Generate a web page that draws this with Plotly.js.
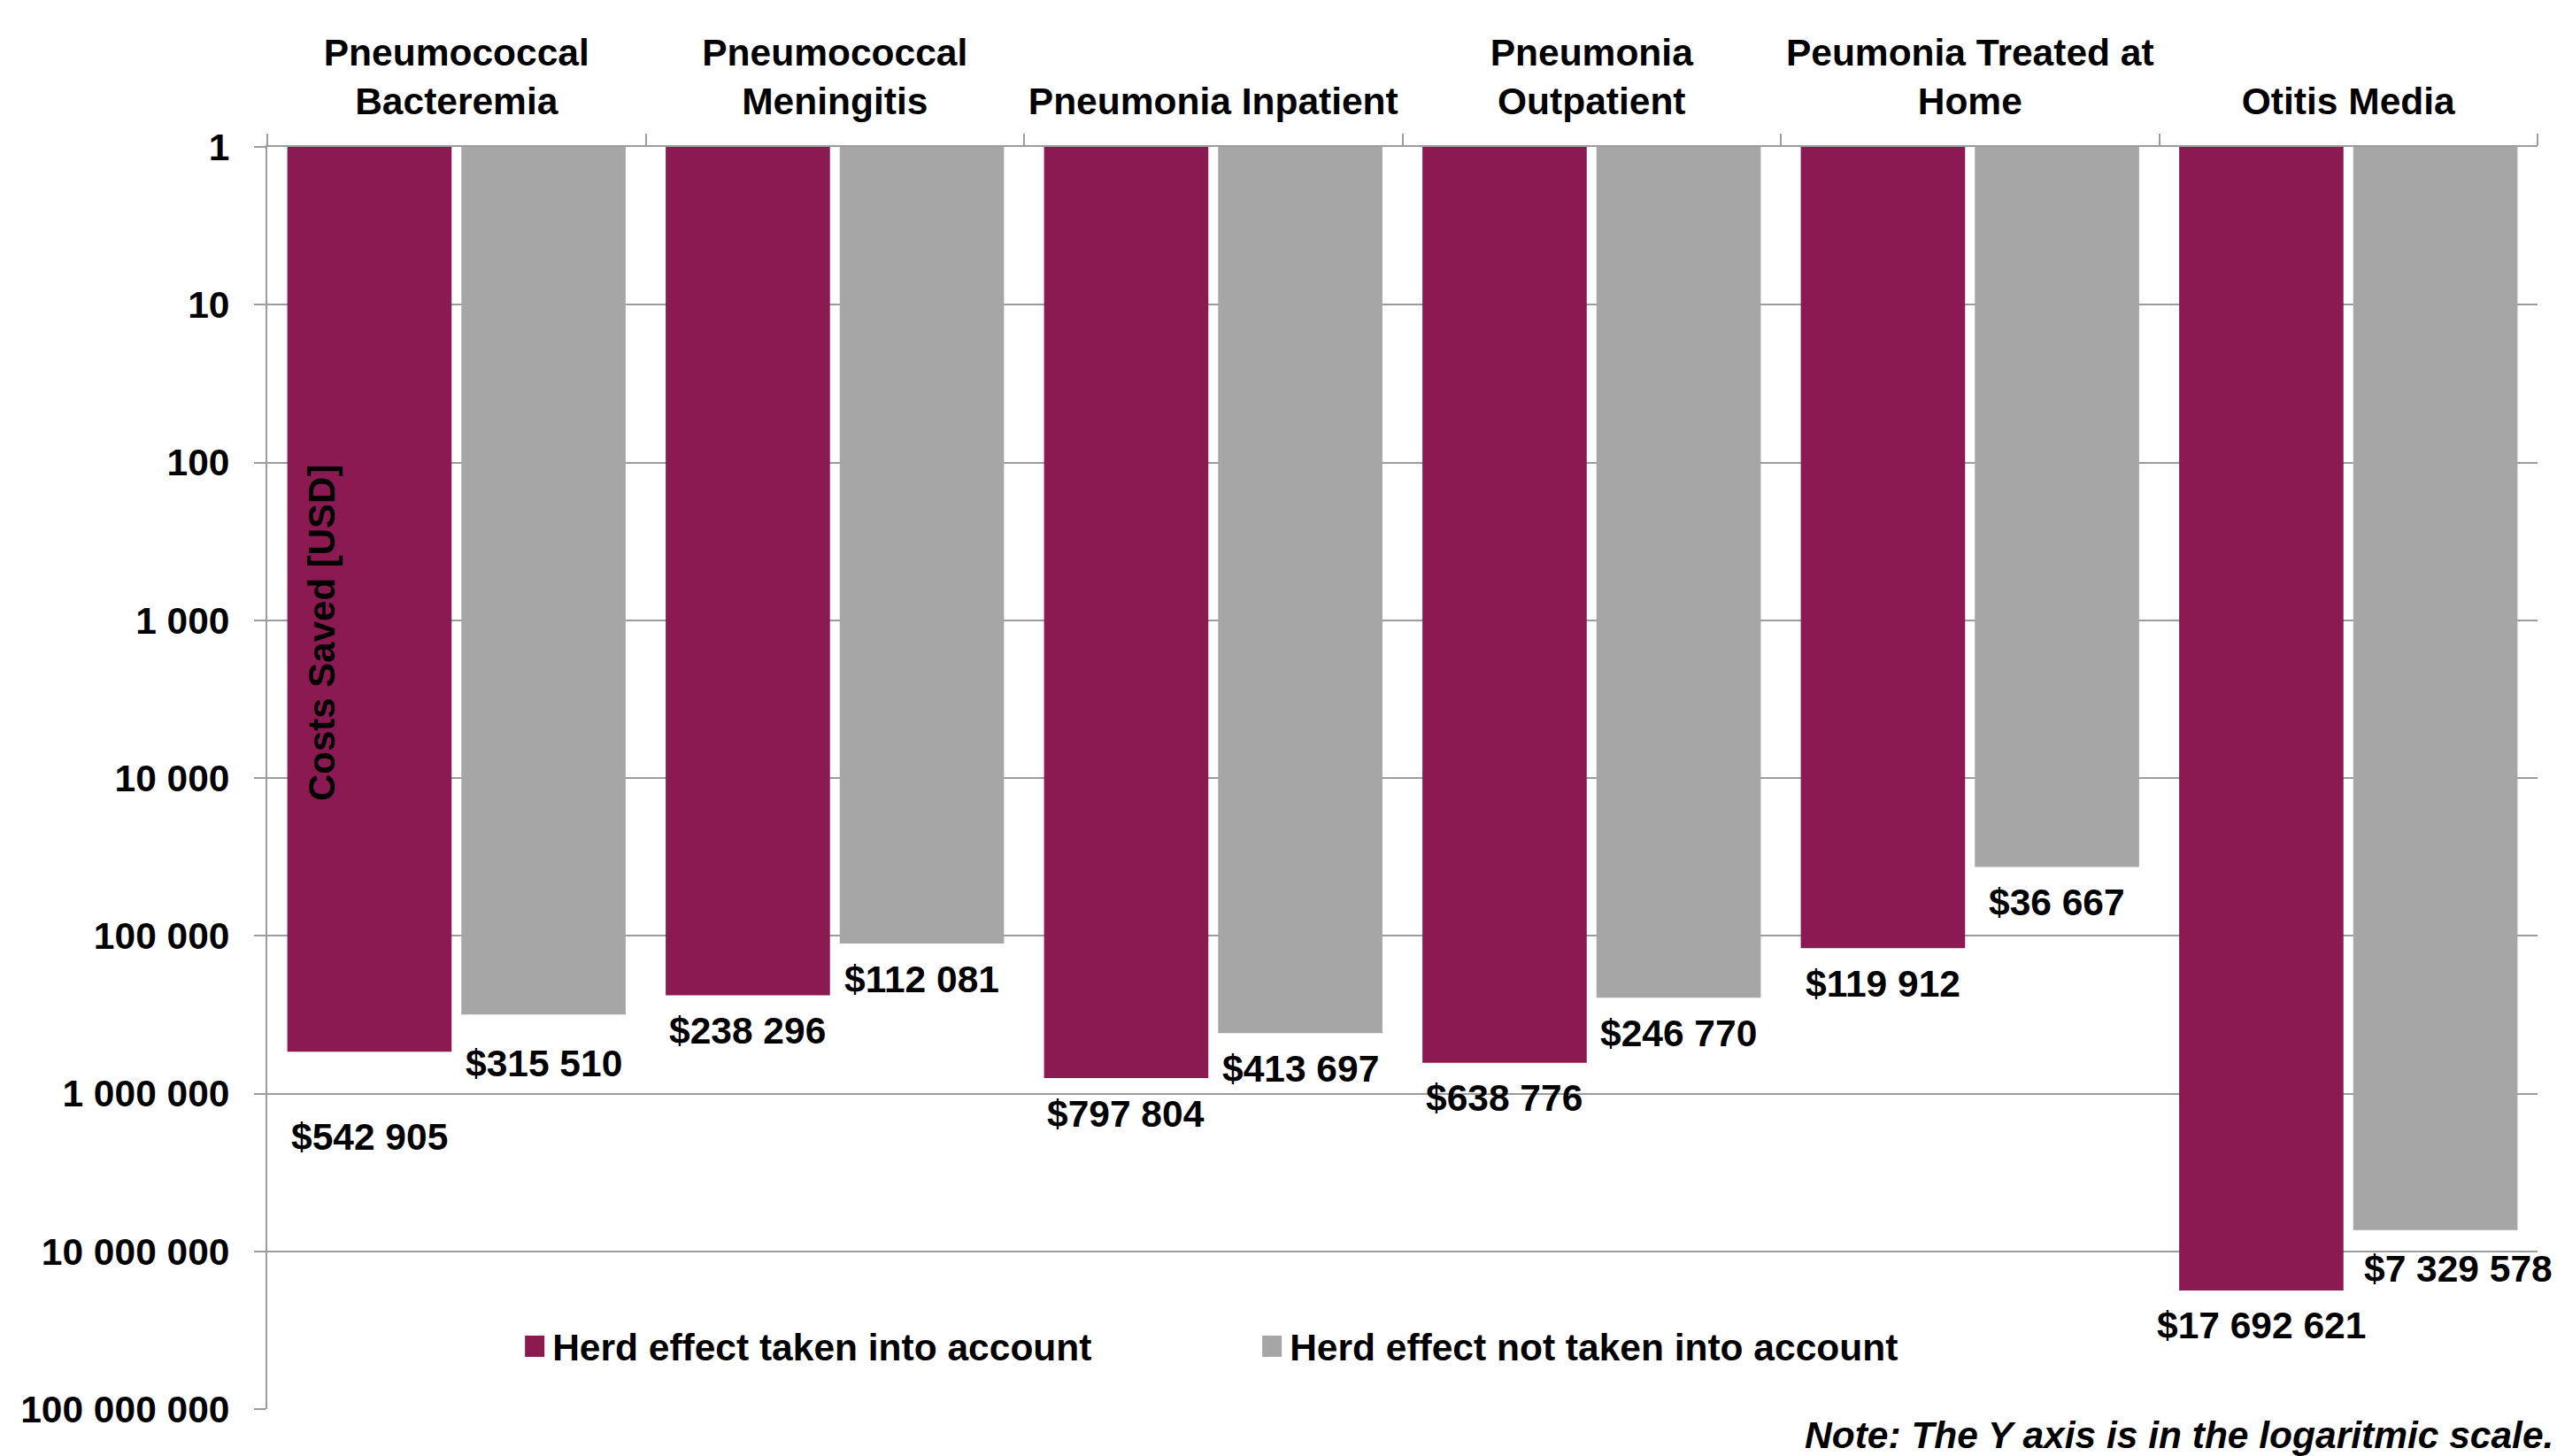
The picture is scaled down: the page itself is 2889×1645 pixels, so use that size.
<!DOCTYPE html>
<html>
<head>
<meta charset="utf-8">
<script src="https://cdn.plot.ly/plotly-3.0.1.min.js"></script>
<style>
  html, body { margin: 0; padding: 0; background: #ffffff; }
  #chart { width: 2889px; height: 1645px; }
</style>
</head>
<body>
<div id="chart"></div>
<script>
// Categories of disease (multi-line labels shown above the plot)
const categories = [
  'Pneumococcal<br>Bacteremia',
  'Pneumococcal<br>Meningitis',
  'Pneumonia Inpatient',
  'Pneumonia<br>Outpatient',
  'Peumonia Treated at<br>Home',
  'Otitis Media'
];

// Costs saved in USD
const herdIncluded = [542905, 238296, 797804, 638776, 119912, 17692621];
const herdExcluded = [315510, 112081, 413697, 246770, 36667, 7329578];

const seriesNames = ['Herd effect taken into account', 'Herd effect not taken into account'];

// Log-scale ticks and their labels
const tickValues = [1, 10, 100, 1000, 10000, 100000, 1000000, 10000000, 100000000];
const tickLabels = ['1', '10', '100', '1 000', '10 000', '100 000', '1 000 000', '10 000 000', '100 000 000'];

// ---- styling ----
const FONT = 'Liberation Sans, Arial, Helvetica, sans-serif';
const PURPLE = '#8a1a51';
const GREY = '#a6a6a6';
const LINE = '#9c9c9c';
const FS = 42.5;

// vertical drop (px) of each value label below its bar end; a few are set lower
const labelDrop = { default: 40, 'herd-0': 96, 'noherd-0': 55, 'noherd-5': 44 };
const labelShift = { 'noherd-5': 26 };

function money(v) {
  return '$' + String(v).replace(/\B(?=(\d{3})+(?!\d))/g, ' ');
}

const traces = [
  { name: seriesNames[0], values: herdIncluded, color: PURPLE },
  { name: seriesNames[1], values: herdExcluded, color: GREY }
].map(s => ({
  type: 'bar',
  name: s.name,
  x: categories,
  y: s.values,
  base: 1,
  marker: { color: s.color, line: { width: 0 } },
  hoverinfo: 'skip'
}));

const BARGAP = 0.08;
const BARGROUPGAP = 0.056;
const plotW = 2889 - 302 - 22;
const slot = (plotW / categories.length) * (1 - BARGAP) / 2;

const annotations = [];
[['herd', herdIncluded, -1], ['noherd', herdExcluded, 1]].forEach(([key, vals, side]) => {
  vals.forEach((v, i) => {
    const id = key + '-' + i;
    annotations.push({
      x: categories[i],
      xref: 'x',
      y: Math.log10(v),
      yref: 'y',
      text: money(v),
      showarrow: false,
      xanchor: 'center',
      yanchor: 'middle',
      xshift: side * slot / 2 + (labelShift[id] || 0),
      yshift: -(labelDrop[id] !== undefined ? labelDrop[id] : labelDrop.default),
      font: { family: FONT, size: FS, color: '#000000', weight: 'bold' }
    });
  });
});

// axis title drawn inside the plot, over the first bar
annotations.push({
  text: 'Costs Saved [USD]',
  xref: 'paper', yref: 'paper',
  x: 0.0238, y: 0.615,
  xanchor: 'center', yanchor: 'middle',
  textangle: -90,
  showarrow: false,
  font: { family: FONT, size: 42, color: '#000000', weight: 'bold' }
});

// footnote
annotations.push({
  text: '<b><i>Note: The Y axis is in the logaritmic scale.</i></b>',
  xref: 'paper', yref: 'paper',
  x: 1, y: 0,
  xanchor: 'right', yanchor: 'middle',
  xshift: 20, yshift: -29,
  showarrow: false,
  font: { family: FONT, size: FS, color: '#000000' }
});

const layout = {
  width: 2889,
  height: 1645,
  margin: { l: 302, r: 22, t: 166, b: 53, pad: 0, autoexpand: false },
  paper_bgcolor: '#ffffff',
  plot_bgcolor: '#ffffff',
  font: { family: FONT, size: FS, color: '#000000', weight: 'bold' },
  barmode: 'group',
  bargap: BARGAP,
  bargroupgap: BARGROUPGAP,
  showlegend: true,
  legend: {
    orientation: 'h',
    x: 0.110, xanchor: 'left',
    y: 0.0496, yanchor: 'middle',
    bgcolor: 'rgba(0,0,0,0)',
    font: { family: FONT, size: FS, color: '#000000', weight: 'bold' },
    entrywidth: 788,
    traceorder: 'normal'
  },
  xaxis: {
    type: 'category',
    side: 'top',
    range: [-0.5, categories.length - 0.5],
    autorange: false,
    automargin: false,
    tickangle: 0,
    showline: true,
    linecolor: LINE,
    linewidth: 2,
    ticks: 'outside',
    tickson: 'boundaries',
    ticklen: 13,
    tickwidth: 2,
    tickcolor: LINE,
    showgrid: false,
    tickfont: { family: FONT, size: FS, color: '#000000', weight: 'bold' },
    ticklabelstandoff: 18,
    fixedrange: true
  },
  yaxis: {
    type: 'log',
    range: [8, 0],
    autorange: false,
    automargin: false,
    tickvals: tickValues,
    ticktext: tickLabels,
    showline: true,
    linecolor: LINE,
    linewidth: 2,
    ticks: 'outside',
    ticklen: 13,
    tickwidth: 2,
    tickcolor: LINE,
    showgrid: true,
    gridcolor: LINE,
    gridwidth: 2,
    zeroline: false,
    tickfont: { family: FONT, size: FS, color: '#000000', weight: 'bold' },
    ticklabelstandoff: 19,
    fixedrange: true
  },
  annotations: annotations
};

Plotly.newPlot('chart', traces, layout, { staticPlot: true, displayModeBar: false }).then(() => {
  // larger square swatches in the legend
  document.querySelectorAll('#chart .legendpoints path').forEach(p => p.setAttribute('d', 'M11,12H-11V-12H11Z'));
});
</script>
</body>
</html>
